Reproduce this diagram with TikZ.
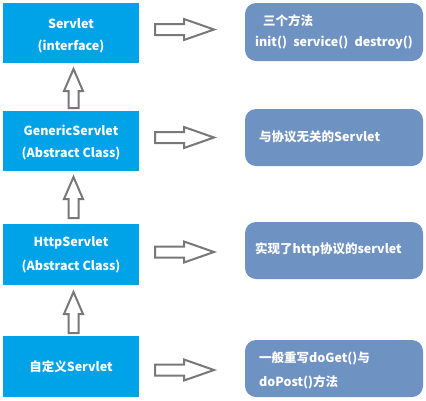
\documentclass[tikz,border=0pt]{standalone}
\usepackage{fontspec}
\setmainfont{Noto Sans CJK SC}
\usetikzlibrary{positioning}
\definecolor{lbox}{RGB}{0,162,232}
\definecolor{rbox}{RGB}{110,146,194}
\definecolor{arr}{RGB}{120,120,120}
\tikzset{
  lb/.style={fill=lbox, draw=none, inner sep=0pt},
  rb/.style={fill=rbox, draw=none, rounded corners=11pt, inner sep=0pt},
  txt/.style={text=white, font=\bfseries\fontsize{12.5}{14}\selectfont, inner sep=0pt},
  blk/.style={draw=arr, fill=white, line width=2pt, line join=miter},
}
\begin{document}
\begin{tikzpicture}[x=1pt,y=-1pt]
\useasboundingbox (0,0) rectangle (426,400);
% left boxes
\fill[lb] (3,3) rectangle (139,63);
\fill[lb] (3,111) rectangle (139,171);
\fill[lb] (3,224) rectangle (139,285);
\fill[lb] (3,336) rectangle (139,397);
% right boxes
\fill[rb] (245,3) rectangle (423,61);
\fill[rb] (245,109) rectangle (423,166);
\fill[rb] (245,222) rectangle (423,279);
\fill[rb] (245,340) rectangle (423,397);
% left texts
\node[txt] (s1) at (71,24) {Servlet};
\node[txt] (s1b) at (71,47) {(interface)};
\node[txt] (s2) at (71,130) {GenericServlet};
\node[txt] (s2b) at (71,154) {(Abstract Class)};
\node[txt] (s3) at (71,243) {HttpServlet};
\node[txt] (s3b) at (71,267) {(Abstract Class)};
\node[txt] (s4) at (71,367) {自定义Servlet};
% right texts
\node[txt, anchor=west] (r1) at (263,21) {三个方法};
\node[txt, anchor=west] (r1b) at (255,43) {init()\hspace{0.5em}service()\hspace{0.5em}destroy()};
\node[txt, anchor=west] (r2) at (259,137) {与协议无关的Servlet};
\node[txt, anchor=west] (r3) at (255,249) {实现了http协议的servlet};
\node[txt, anchor=west] (r4) at (259,358) {一般重写doGet()与};
\node[txt, anchor=west] (r4b) at (259,382) {doPost()方法};
% right block arrows
\foreach \y in {29.5,137.5,252,370} {
  \draw[blk] (155,\y-5.5) -- (184,\y-5.5) -- (184,\y-10.5) -- (214,\y) -- (184,\y+10.5) -- (184,\y+5.5) -- (155,\y+5.5) -- cycle;
}
% up block arrows
\foreach \a/\b in {69/108,177/218,292/333} {
  \draw[blk] (68.5,\b) -- (68.5,\a+22) -- (64,\a+22) -- (73.5,\a) -- (83,\a+22) -- (78.5,\a+22) -- (78.5,\b) -- cycle;
}
\end{tikzpicture}
\end{document}
